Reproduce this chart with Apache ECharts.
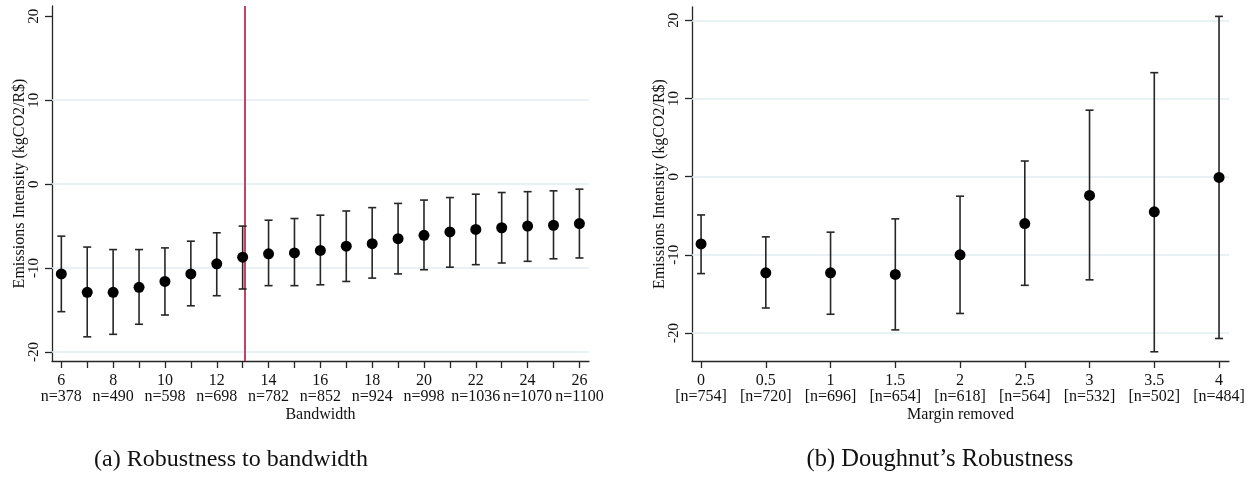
<!DOCTYPE html>
<html>
<head>
<meta charset="utf-8">
<script src="https://cdn.jsdelivr.net/npm/echarts@6/dist/echarts.min.js"></script>
<style>
  html, body { margin: 0; padding: 0; background: #ffffff; }
  #chart { width: 1255px; height: 489px; }
</style>
</head>
<body>
<div id="chart"></div>
<script>
// (a) Estimates by bandwidth: point estimate with 95% interval
const bandwidths = [6, 7, 8, 9, 10, 11, 12, 13, 14, 15, 16, 17, 18, 19, 20, 21, 22, 23, 24, 25, 26];
const bwEstimate = [-10.7, -12.9, -12.9, -12.3, -11.6, -10.7, -9.5, -8.7, -8.3, -8.2, -7.9, -7.4, -7.1, -6.5, -6.1, -5.7, -5.4, -5.2, -5.0, -4.9, -4.7];
const bwLower    = [-15.2, -18.2, -17.9, -16.7, -15.6, -14.5, -13.3, -12.5, -12.1, -12.1, -12.0, -11.6, -11.2, -10.7, -10.2, -9.9, -9.6, -9.4, -9.2, -8.9, -8.8];
const bwUpper    = [-6.2, -7.5, -7.8, -7.8, -7.6, -6.8, -5.8, -5.0, -4.3, -4.1, -3.7, -3.2, -2.8, -2.3, -1.9, -1.6, -1.2, -1.0, -0.9, -0.8, -0.6];
const bwTickLabels = [6, 8, 10, 12, 14, 16, 18, 20, 22, 24, 26];
const bwSampleSize = [378, 490, 598, 698, 782, 852, 924, 998, 1036, 1070, 1100];
const optimalBandwidth = 13.1;

// (b) Estimates by margin removed around the border (doughnut)
const margins    = [0, 0.5, 1, 1.5, 2, 2.5, 3, 3.5, 4];
const mEstimate  = [-8.6, -12.3, -12.3, -12.5, -10.0, -6.0, -2.4, -4.5, -0.1];
const mLower     = [-12.4, -16.8, -17.6, -19.6, -17.5, -13.9, -13.2, -22.4, -20.7];
const mUpper     = [-4.9, -7.7, -7.1, -5.4, -2.5, 2.0, 8.5, 13.3, 20.5];
const mSampleSize = [754, 720, 696, 654, 618, 564, 532, 502, 484];

const yTicks = [-20, -10, 0, 10, 20];
const leftGridValues = [-20, -10, 0, 10];
const rightGridValues = [-20, -10, 0, 10, 20];

const SERIF = '"Liberation Serif", "DejaVu Serif", serif';
const INK = '#262626';
const GRID_COLOR = '#e3edf1';

const chart = echarts.init(document.getElementById('chart'), null, { renderer: 'canvas' });

function errorBar(params, api) {
  const x = api.value(0);
  const lo = api.coord([x, api.value(1)]);
  const hi = api.coord([x, api.value(2)]);
  const w = 4;
  const style = { stroke: INK, lineWidth: 1.6 };
  return {
    type: 'group',
    children: [
      { type: 'line', shape: { x1: lo[0], y1: lo[1], x2: hi[0], y2: hi[1] }, style },
      { type: 'line', shape: { x1: lo[0] - w, y1: lo[1], x2: lo[0] + w, y2: lo[1] }, style },
      { type: 'line', shape: { x1: hi[0] - w, y1: hi[1], x2: hi[0] + w, y2: hi[1] }, style }
    ]
  };
}

function xAxisCommon(extra) {
  return Object.assign({
    type: 'value',
    nameLocation: 'middle',
    nameGap: 46,
    nameMoveOverlap: false,
    nameTextStyle: { fontFamily: SERIF, fontSize: 16, color: '#111' },
    axisLine: { show: true, onZero: false, lineStyle: { color: INK, width: 1.3 } },
    splitLine: { show: false }
  }, extra);
}

function yAxisCommon(extra) {
  return Object.assign({
    type: 'value',
    name: 'Emissions Intensity (kgCO2/R$)',
    nameLocation: 'middle',
    nameGap: 24,
    nameMoveOverlap: false,
    nameRotate: 90,
    nameTextStyle: { fontFamily: SERIF, fontSize: 16, color: '#111' },
    axisLine: { show: true, onZero: false, lineStyle: { color: INK, width: 1.3 } },
    axisTick: { show: true, length: 7, customValues: yTicks, lineStyle: { color: INK, width: 1.3 } },
    splitLine: { show: false },
    axisLabel: {
      fontFamily: SERIF, fontSize: 15, color: '#111', rotate: 90, margin: 10,
      customValues: yTicks
    }
  }, extra);
}

function gridLines(values, xAxisIndex, yAxisIndex) {
  return {
    type: 'line', xAxisIndex, yAxisIndex, data: [], z: 1, silent: true,
    markLine: {
      silent: true, symbol: 'none', animation: false, z: 1,
      label: { show: false },
      lineStyle: { color: GRID_COLOR, width: 1.5, type: 'solid' },
      data: values.map(v => ({ yAxis: v }))
    }
  };
}

const bwLabelMap = {};
bwTickLabels.forEach((b, i) => { bwLabelMap[b] = b + '\nn=' + bwSampleSize[i]; });
const mLabelMap = {};
margins.forEach((m, i) => { mLabelMap[m] = m + '\n[n=' + mSampleSize[i] + ']'; });

const xLabelStyle = { fontFamily: SERIF, fontSize: 16, color: '#111', margin: 12, lineHeight: 16 };

chart.setOption({
  animation: false,
  backgroundColor: '#ffffff',
  grid: [
    { left: 52, right: 666, top: 6, bottom: 128, containLabel: false },
    { left: 692, right: 26, top: 7, bottom: 128, containLabel: false }
  ],
  xAxis: [
    xAxisCommon({
      gridIndex: 0, name: 'Bandwidth', min: 5.64, max: 26.37,
      axisTick: { show: true, length: 7, customValues: bandwidths, lineStyle: { color: INK, width: 1.3 } },
      axisLabel: Object.assign({}, xLabelStyle, {
        customValues: bwTickLabels,
        formatter: v => bwLabelMap[v] || ''
      })
    }),
    xAxisCommon({
      gridIndex: 1, name: 'Margin removed', min: -0.07, max: 4.077,
      axisTick: { show: true, length: 7, customValues: margins, lineStyle: { color: INK, width: 1.3 } },
      axisLabel: Object.assign({}, xLabelStyle, {
        customValues: margins,
        formatter: v => mLabelMap[v] || ''
      })
    })
  ],
  yAxis: [
    yAxisCommon({ gridIndex: 0, min: -21.08, max: 21.23 }),
    yAxisCommon({ gridIndex: 1, min: -23.58, max: 21.7 })
  ],
  graphic: [
    { type: 'text', x: 231, y: 460, style: { text: '(a) Robustness to bandwidth', font: '24px ' + SERIF, fill: '#111', textAlign: 'center', textVerticalAlign: 'middle' } },
    { type: 'text', x: 940, y: 460, style: { text: '(b) Doughnut\u2019s Robustness', font: '24.5px ' + SERIF, fill: '#111', textAlign: 'center', textVerticalAlign: 'middle' } }
  ],
  series: [
    gridLines(leftGridValues, 0, 0),
    gridLines(rightGridValues, 1, 1),
    {
      type: 'line', xAxisIndex: 0, yAxisIndex: 0, data: [], z: 2, silent: true,
      markLine: {
        silent: true, symbol: 'none', animation: false, z: 2,
        label: { show: false },
        lineStyle: { color: '#b3163c', width: 1.6, type: 'solid' },
        data: [{ xAxis: optimalBandwidth }]
      }
    },
    {
      type: 'custom', xAxisIndex: 0, yAxisIndex: 0, z: 3, silent: true,
      renderItem: errorBar,
      encode: { x: 0, y: [1, 2] },
      data: bandwidths.map((b, i) => [b, bwLower[i], bwUpper[i]])
    },
    {
      type: 'scatter', xAxisIndex: 0, yAxisIndex: 0, z: 4, silent: true,
      symbol: 'circle', symbolSize: 11,
      itemStyle: { color: '#000000', opacity: 1 },
      data: bandwidths.map((b, i) => [b, bwEstimate[i]])
    },
    {
      type: 'custom', xAxisIndex: 1, yAxisIndex: 1, z: 3, silent: true,
      renderItem: errorBar,
      encode: { x: 0, y: [1, 2] },
      data: margins.map((m, i) => [m, mLower[i], mUpper[i]])
    },
    {
      type: 'scatter', xAxisIndex: 1, yAxisIndex: 1, z: 4, silent: true,
      symbol: 'circle', symbolSize: 11,
      itemStyle: { color: '#000000', opacity: 1 },
      data: margins.map((m, i) => [m, mEstimate[i]])
    }
  ]
});
</script>
</body>
</html>
